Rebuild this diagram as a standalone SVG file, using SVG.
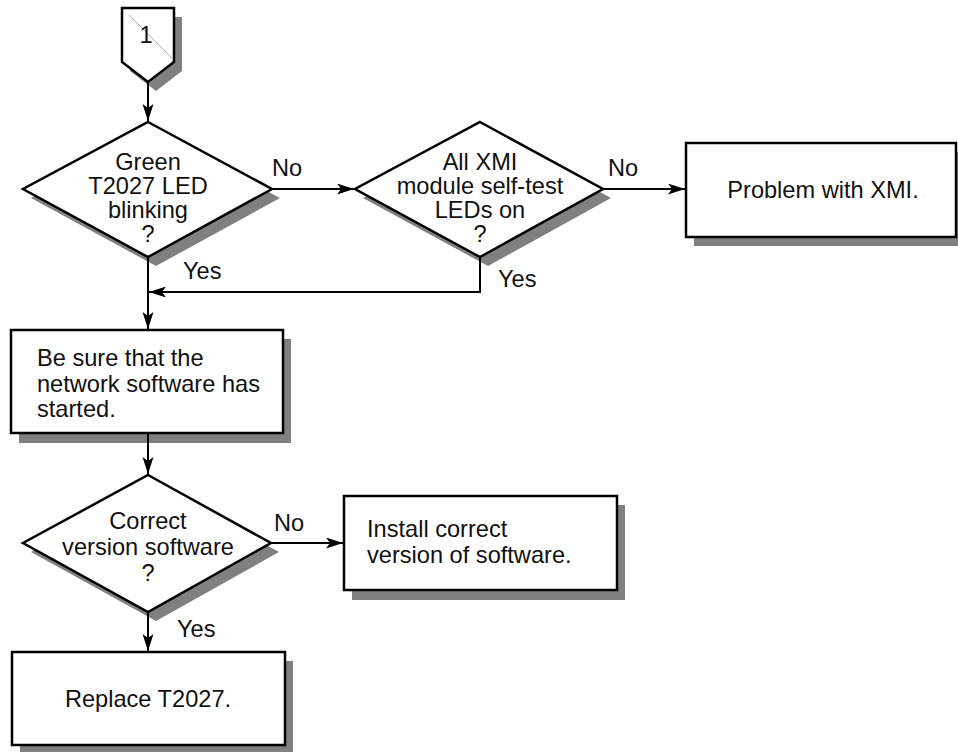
<svg xmlns="http://www.w3.org/2000/svg" width="958" height="752" viewBox="0 0 958 752">
  <style>
    .shape { fill: #ffffff; stroke: #000000; stroke-width: 2.5; stroke-linejoin: miter; }
    .shadow { fill: #808080; stroke: none; }
    .edge { fill: none; stroke: #000000; stroke-width: 2; }
    .txt { font-family: "Liberation Sans", Arial, sans-serif; font-size: 23.6px; fill: #111111; }
    .mid { text-anchor: middle; }
  </style>
  <defs>
    <marker id="arrow" markerUnits="userSpaceOnUse" markerWidth="20" markerHeight="14" refX="17" refY="5.5" orient="auto">
      <path d="M0,0 L17,5.5 L0,11 L4,5.5 Z" fill="#000000"/>
    </marker>
  </defs>
  <rect width="958" height="752" fill="#ffffff"/>

  <!-- off-page connector 1 -->
  <g id="connector-1">
    <polygon class="shadow" points="130,17 182,17 182,71 156,91 130,71"/>
    <polygon class="shape" points="122,8 174,8 174,62 148,82 122,62"/>
    <line x1="129" y1="15" x2="173" y2="59" stroke="#b0b0b0" stroke-width="1"/>
    <text class="txt mid" x="146" y="43">1</text>
  </g>

  <!-- decision: green T2027 LED -->
  <g id="decision-led">
    <polygon class="shadow" points="156,131 280,198 156,266 31,198"/>
    <polygon class="shape" points="148,122 272,189 148,257 23,189"/>
    <text class="txt mid" x="148" y="170">Green</text>
    <text class="txt mid" x="148" y="194">T2027 LED</text>
    <text class="txt mid" x="148" y="218">blinking</text>
    <text class="txt mid" x="148" y="242">?</text>
  </g>

  <!-- decision: XMI self-test LEDs -->
  <g id="decision-xmi">
    <polygon class="shadow" points="488,131 611,198 488,266 363,198"/>
    <polygon class="shape" points="480,122 603,189 480,257 355,189"/>
    <text class="txt mid" x="480" y="170">All XMI</text>
    <text class="txt mid" x="480" y="194">module self-test</text>
    <text class="txt mid" x="480" y="218">LEDs on</text>
    <text class="txt mid" x="480" y="242">?</text>
  </g>

  <!-- action: problem with XMI -->
  <g id="action-xmi">
    <rect class="shadow" x="694" y="152" width="270" height="94"/>
    <rect class="shape" x="686" y="143" width="270" height="94"/>
    <text class="txt mid" x="823" y="198">Problem with XMI.</text>
  </g>

  <!-- action: network software -->
  <g id="action-network">
    <rect class="shadow" x="19" y="339" width="272" height="104"/>
    <rect class="shape" x="11" y="330" width="272" height="103"/>
    <text class="txt" x="37" y="366">Be sure that the</text>
    <text class="txt" x="37" y="392">network software has</text>
    <text class="txt" x="37" y="417">started.</text>
  </g>

  <!-- decision: software version -->
  <g id="decision-version">
    <polygon class="shadow" points="156,484 279,552 156,621 31,552"/>
    <polygon class="shape" points="148,475 271,543 148,612 23,543"/>
    <text class="txt mid" x="148" y="529">Correct</text>
    <text class="txt mid" x="148" y="555">version software</text>
    <text class="txt mid" x="148" y="581">?</text>
  </g>

  <!-- action: install software -->
  <g id="action-install">
    <rect class="shadow" x="352" y="505" width="273" height="95"/>
    <rect class="shape" x="344" y="496" width="273" height="94"/>
    <text class="txt" x="367" y="537">Install correct</text>
    <text class="txt" x="367" y="563">version of software.</text>
  </g>

  <!-- action: replace T2027 -->
  <g id="action-replace">
    <rect class="shadow" x="20" y="661" width="273" height="93"/>
    <rect class="shape" x="12" y="652" width="273" height="93"/>
    <text class="txt mid" x="148" y="707">Replace T2027.</text>
  </g>

  <!-- connectors -->
  <g id="connectors">
    <line class="edge" x1="148" y1="83" x2="148" y2="121" marker-end="url(#arrow)"/>
    <line class="edge" x1="272" y1="189" x2="354" y2="189" marker-end="url(#arrow)"/>
    <line class="edge" x1="603" y1="189" x2="685" y2="189" marker-end="url(#arrow)"/>
    <line class="edge" x1="148" y1="257" x2="148" y2="329" marker-end="url(#arrow)"/>
    <polyline class="edge" points="480,257 480,292 149,292" marker-end="url(#arrow)"/>
    <line class="edge" x1="148" y1="434" x2="148" y2="474" marker-end="url(#arrow)"/>
    <line class="edge" x1="271" y1="543" x2="343" y2="543" marker-end="url(#arrow)"/>
    <line class="edge" x1="148" y1="612" x2="148" y2="651" marker-end="url(#arrow)"/>
  </g>

  <!-- branch labels -->
  <g id="labels">
    <text class="txt" x="272" y="176">No</text>
    <text class="txt" x="608" y="176">No</text>
    <text class="txt" x="183" y="279">Yes</text>
    <text class="txt" x="498" y="287">Yes</text>
    <text class="txt" x="274" y="531">No</text>
    <text class="txt" x="177" y="637">Yes</text>
  </g>
</svg>
